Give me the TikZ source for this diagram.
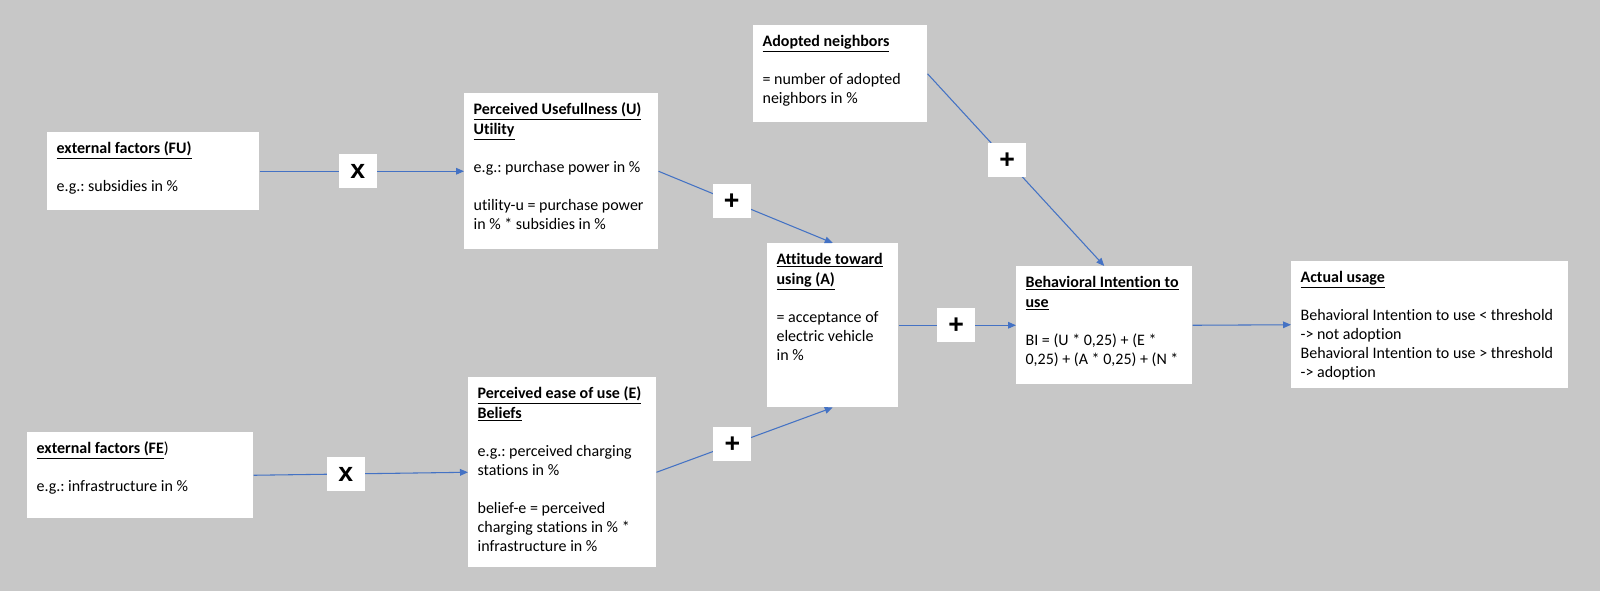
\documentclass[tikz,border=0pt]{standalone}
\usepackage{fontspec}
\setmainfont{Carlito}[Ligatures={TeX,NoCommon}]
\newfontfamily\opfont{Liberation Sans}
\usetikzlibrary{arrows.meta}

\definecolor{bggray}{RGB}{199,199,199}
\definecolor{linkblue}{RGB}{68,114,196}
\newlength\pxlen
\setlength\pxlen{0.75pt}
\newcommand\boxtext[3]{\parbox[t][\dimexpr#2\pxlen-12pt\relax][t]{\dimexpr#1\pxlen-14pt\relax}{\raggedright\frenchspacing\strut#3}}
\newcommand\ttl[1]{\underline{\textbf{#1}}}
\newcommand\gap{\\[14.25pt]}

\begin{document}
\begin{tikzpicture}[x=0.75pt,y=-0.75pt,
    factor/.style={fill=white,anchor=north west,inner xsep=7pt,inner ysep=6pt,font=\fontsize{12}{14.25}\selectfont},
    op/.style={fill=white,minimum width=38\pxlen,minimum height=34\pxlen,inner sep=0pt,font={\opfont\fontsize{20}{24}\selectfont\bfseries}},
    link/.style={draw=linkblue,line width=0.8pt,-{Triangle[length=6pt,width=5pt]}}]
      \fill[bggray] (0,0) rectangle (1600,591);

      \node[factor] (fu) at (47,132) {\boxtext{212}{78}{\ttl{external factors (FU)}\gap e.g.: subsidies in \%}};
      \node[factor] (fe) at (27,432) {\boxtext{226}{86}{\ttl{external factors (FE})\gap e.g.: infrastructure in \%}};
      \node[factor] (pu) at (464,93) {\boxtext{194}{156}{\ttl{Perceived Usefullness (U)}\\[0.75pt]\ttl{Utility}\gap e.g.: purchase power in \%\gap utility-u = purchase power\\in \% * subsidies in \%}};
      \node[factor] (pe) at (468,377) {\boxtext{188}{190}{\ttl{Perceived ease of use (E)}\\[0.75pt]\ttl{Beliefs}\gap e.g.: perceived charging\\stations in \%\gap belief-e = perceived\\charging stations in \% *\\infrastructure in \%}};
      \node[factor] (nb) at (753,25) {\boxtext{174}{97}{\ttl{Adopted neighbors}\gap = number of adopted\\neighbors in \%}};
      \node[factor] (att) at (767,243) {\boxtext{131}{164}{\ttl{Attitude toward}\\[0.75pt]\ttl{using (A)}\gap = acceptance of\\electric vehicle\\in \%}};
      \node[factor] (bi) at (1016,266) {\boxtext{176}{118}{\ttl{Behavioral Intention to}\\[0.75pt]\ttl{use}\gap BI = (U * 0,25) + (E *\\0,25) + (A * 0,25) + (N *}};
      \node[factor] (au) at (1291,261) {\boxtext{277}{127}{\ttl{Actual usage}\gap Behavioral Intention to use < threshold\\-> not adoption\\Behavioral Intention to use > threshold\\-> adoption}};

      \draw[link] (fu.east) -- node[op,pos=0.48] (xu) {x} (pu.west);
      \draw[link] (fe.east) -- node[op,pos=0.43] (xe) {x} (pe.west);
      \draw[link] (pu.east) -- node[op,pos=0.42] (pluspu) {+} (att.north);
      \draw[link] (pe.east) -- node[op,pos=0.43] (pluspe) {+} (att.south);
      \draw[link] (nb.east) -- node[op,pos=0.45] (plusnb) {+} (bi.north);
      \draw[link] (att.east) -- node[op,pos=0.49] (plusatt) {+} (bi.west);
      \draw[link] (bi.east) -- (au.west);
    \end{tikzpicture}
\end{document}
